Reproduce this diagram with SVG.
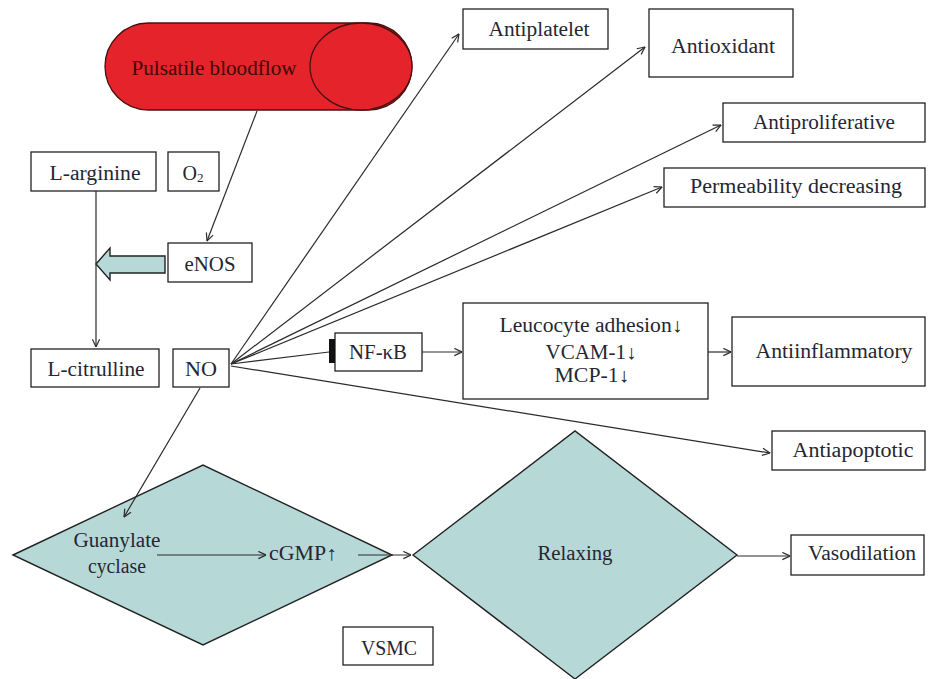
<svg xmlns="http://www.w3.org/2000/svg" width="929" height="679" viewBox="0 0 929 679">
<style>
.box{fill:#fff;stroke:#222;stroke-width:1.3}
.dia{fill:#b6d8d7;stroke:#222;stroke-width:1.4}
.t{font-family:"Liberation Serif","Times New Roman",serif;font-size:20px;fill:#262633;text-anchor:middle}
.c{fill:none;stroke:#2a2a2a;stroke-width:1.2;marker-end:url(#arr)}
</style>
<defs>
<marker id="arr" viewBox="0 0 10 10" refX="9.5" refY="5" markerWidth="9" markerHeight="9" markerUnits="userSpaceOnUse" orient="auto">
<path d="M1,1 L9.5,5 L1,9" fill="none" stroke="#2a2a2a" stroke-width="1.3"/>
</marker>
</defs>
<rect width="929" height="679" fill="#fff"/>

<g id="pulsatile">
<rect x="105" y="23" width="307" height="87" rx="43.5" ry="43.5" fill="#e4232b" stroke="#4a1010" stroke-width="1.3"/>
<ellipse cx="361" cy="66.5" rx="51" ry="43.5" fill="#e4232b" stroke="#4a1010" stroke-width="1.3"/>
<text class="t" x="214" y="75" textLength="165" lengthAdjust="spacingAndGlyphs" style="fill:#3f0808">Pulsatile bloodflow</text>
</g>
<g id="larginine"><rect class="box" x="31" y="152" width="125" height="39"/><text class="t" x="95" y="180" textLength="91" lengthAdjust="spacingAndGlyphs">L-arginine</text></g>
<g id="o2"><rect class="box" x="168" y="152" width="51" height="39"/><text class="t" x="193" y="180">O<tspan font-size="13" dy="2">2</tspan></text></g>
<g id="enos"><rect class="box" x="168" y="243" width="84" height="39"/><text class="t" x="210" y="271" textLength="51" lengthAdjust="spacingAndGlyphs">eNOS</text></g>
<g id="blockarrow"><polygon points="96,264 110,248 110,256 165,256 165,273 110,273 110,280" fill="#b6d8d7" stroke="#222" stroke-width="1.4"/></g>
<g id="lcitrulline"><rect class="box" x="31" y="349" width="128" height="38"/><text class="t" x="96" y="376" textLength="97" lengthAdjust="spacingAndGlyphs">L-citrulline</text></g>
<g id="no"><rect class="box" x="173" y="349" width="56" height="38"/><text class="t" x="201" y="376" textLength="32" lengthAdjust="spacingAndGlyphs">NO</text></g>
<g id="antiplatelet"><rect class="box" x="463" y="9" width="145" height="40"/><text class="t" x="539" y="36" textLength="101" lengthAdjust="spacingAndGlyphs">Antiplatelet</text></g>
<g id="antioxidant"><rect class="box" x="649" y="9" width="144" height="68"/><text class="t" x="723" y="53" textLength="104" lengthAdjust="spacingAndGlyphs">Antioxidant</text></g>
<g id="antiproliferative"><rect class="box" x="723" y="103" width="202" height="39"/><text class="t" x="824" y="129" textLength="142" lengthAdjust="spacingAndGlyphs">Antiproliferative</text></g>
<g id="permeability"><rect class="box" x="664" y="168" width="261" height="39"/><text class="t" x="796" y="193" textLength="212" lengthAdjust="spacingAndGlyphs">Permeability decreasing</text></g>
<g id="nfkb"><rect class="box" x="335" y="333" width="87" height="38"/><rect x="329" y="339" width="6" height="24" fill="#111"/><text class="t" x="378" y="359" textLength="58" lengthAdjust="spacingAndGlyphs">NF-κB</text></g>
<g id="leucocyte"><rect class="box" x="463" y="303" width="245" height="96"/>
<text class="t" x="591" y="332" textLength="183" lengthAdjust="spacingAndGlyphs">Leucocyte adhesion↓</text>
<text class="t" x="591" y="359" textLength="91" lengthAdjust="spacingAndGlyphs">VCAM-1↓</text>
<text class="t" x="592" y="382" textLength="75" lengthAdjust="spacingAndGlyphs">MCP-1↓</text></g>
<g id="antiinflammatory"><rect class="box" x="732" y="317" width="193" height="69"/><text class="t" x="834" y="358" textLength="157" lengthAdjust="spacingAndGlyphs">Antiinflammatory</text></g>
<g id="antiapoptotic"><rect class="box" x="772" y="431" width="153" height="39"/><text class="t" x="853" y="457" textLength="121" lengthAdjust="spacingAndGlyphs">Antiapoptotic</text></g>
<g id="guanylate"><polygon class="dia" points="13,555 203,465 392,555 203,645"/>
<text class="t" x="117" y="547" textLength="87" lengthAdjust="spacingAndGlyphs">Guanylate</text>
<text class="t" x="117" y="573" textLength="58" lengthAdjust="spacingAndGlyphs">cyclase</text>
<text class="t" x="303" y="560" textLength="68" lengthAdjust="spacingAndGlyphs">cGMP↑</text></g>
<g id="relaxing"><polygon class="dia" points="413,555 575,431 737,555 575,679"/><text class="t" x="575" y="560" textLength="75" lengthAdjust="spacingAndGlyphs">Relaxing</text></g>
<g id="vasodilation"><rect class="box" x="791" y="535" width="133" height="40"/><text class="t" x="862" y="560" textLength="108" lengthAdjust="spacingAndGlyphs">Vasodilation</text></g>
<g id="vsmc"><rect class="box" x="343" y="627" width="90" height="38"/><text class="t" x="389" y="655" textLength="56" lengthAdjust="spacingAndGlyphs">VSMC</text></g>

<g id="connectors">
<line class="c" x1="257" y1="111" x2="207" y2="241"/>
<line class="c" x1="96" y1="191" x2="96" y2="347"/>
<line class="c" x1="231" y1="364" x2="459" y2="34"/>
<line class="c" x1="231" y1="364" x2="645" y2="47"/>
<line class="c" x1="231" y1="364" x2="721" y2="125"/>
<line class="c" x1="231" y1="364" x2="662" y2="187"/>
<line x1="231" y1="364" x2="329" y2="352" stroke="#2a2a2a" stroke-width="1.2"/>
<line class="c" x1="231" y1="366" x2="770" y2="453"/>
<line class="c" x1="200" y1="388" x2="124" y2="517"/>
<line class="c" x1="422" y1="352" x2="462" y2="352"/>
<line class="c" x1="708" y1="352" x2="731" y2="352"/>
<line class="c" x1="157" y1="555" x2="266" y2="555"/>
<line class="c" x1="358" y1="555" x2="411" y2="555"/>
<line class="c" x1="737" y1="556" x2="790" y2="556"/>
</g>
</svg>
